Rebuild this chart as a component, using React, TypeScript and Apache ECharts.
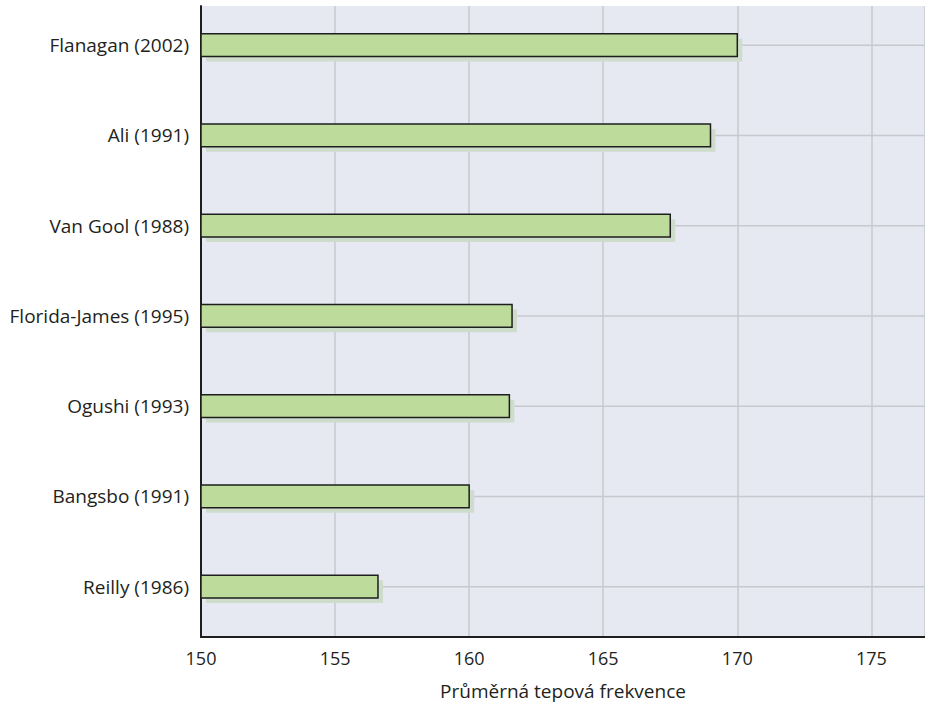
import React, { useEffect, useRef } from "react";
import * as echarts from "echarts";

const categories = [
  "Flanagan (2002)",
  "Ali (1991)",
  "Van Gool (1988)",
  "Florida-James (1995)",
  "Ogushi (1993)",
  "Bangsbo (1991)",
  "Reilly (1986)",
];
const heartRates = [170, 169, 167.5, 161.6, 161.5, 160, 156.6];
const axisMin = 150;
const axisMax = 177;
const axisInterval = 5;
const axisTitle = "Průměrná tepová frekvence";

const FONT = "'Open Sans', 'Noto Sans', sans-serif";
const TEXT = "#231f20";

export default function App() {
  const ref = useRef<HTMLDivElement>(null);
  useEffect(() => {
    if (!ref.current) return;
    const chart = echarts.init(ref.current, null, { renderer: "svg" });
    const data = heartRates.map((v, i) => [v, i]);
    chart.setOption({
      animation: false,
      backgroundColor: "#ffffff",
      grid: [
        { left: 201, width: 727, top: -1.75, height: 633.5, show: false },
        {
          left: 201,
          width: 727,
          top: 6,
          height: 632,
          show: true,
          backgroundColor: "#e6e9f2",
          borderWidth: 0,
        },
      ],
      xAxis: [
        { type: "value", gridIndex: 0, min: axisMin, max: axisMax, show: false },
        {
          type: "value",
          gridIndex: 1,
          min: axisMin,
          max: axisMax,
          interval: axisInterval,
          axisLine: { show: true, lineStyle: { color: "#1e1e1e", width: 2 } },
          axisTick: { show: false },
          axisLabel: {
            showMaxLabel: false,
            fontFamily: FONT,
            fontSize: 18,
            color: TEXT,
            margin: 12,
          },
          splitLine: { show: true, lineStyle: { color: "#c8c9ce", width: 1.5 } },
          name: axisTitle,
          nameLocation: "middle",
          nameGap: 44,
          nameTextStyle: { fontFamily: FONT, fontSize: 19, color: TEXT },
        },
      ],
      yAxis: [
        {
          type: "category",
          gridIndex: 0,
          data: categories,
          inverse: true,
          axisLine: { show: false },
          axisTick: { show: false },
          splitLine: { show: false },
          axisLabel: { fontFamily: FONT, fontSize: 19, color: TEXT, margin: 12 },
        },
        {
          type: "value",
          gridIndex: 1,
          min: 0,
          max: 1,
          axisLine: { show: true, lineStyle: { color: "#1e1e1e", width: 2 } },
          axisTick: { show: false },
          axisLabel: { show: false },
          splitLine: { show: false },
        },
      ],
      series: [
        {
          type: "custom",
          xAxisIndex: 0,
          yAxisIndex: 0,
          data,
          encode: { x: 0, y: 1 },
          renderItem: (params: any, api: any) => {
            const v = api.value(0);
            const idx = api.value(1);
            const end = api.coord([v, idx]);
            const start = api.coord([axisMin, idx]);
            const band = api.size([0, 1])[1];
            const h = band * 0.254;
            const cs = params.coordSys;
            const top = end[1] - h / 2;
            const w = end[0] - start[0];
            return {
              type: "group",
              children: [
                {
                  type: "line",
                  shape: { x1: cs.x, y1: end[1], x2: cs.x + cs.width, y2: end[1] },
                  style: { stroke: "#c8c9ce", lineWidth: 1.5 },
                },
                {
                  type: "rect",
                  shape: { x: start[0] + 5, y: top + 5, width: w, height: h },
                  style: { fill: "#cddccb" },
                },
                {
                  type: "rect",
                  shape: { x: start[0], y: top, width: w, height: h },
                  style: { fill: "#bddc9c", stroke: "#1e1e1e", lineWidth: 1.5 },
                },
              ],
            };
          },
        },
      ],
    });
    return () => chart.dispose();
  }, []);
  return (
    <div
      ref={ref}
      style={{ position: "fixed", left: 0, top: 0, width: 925, height: 705 }}
    />
  );
}
